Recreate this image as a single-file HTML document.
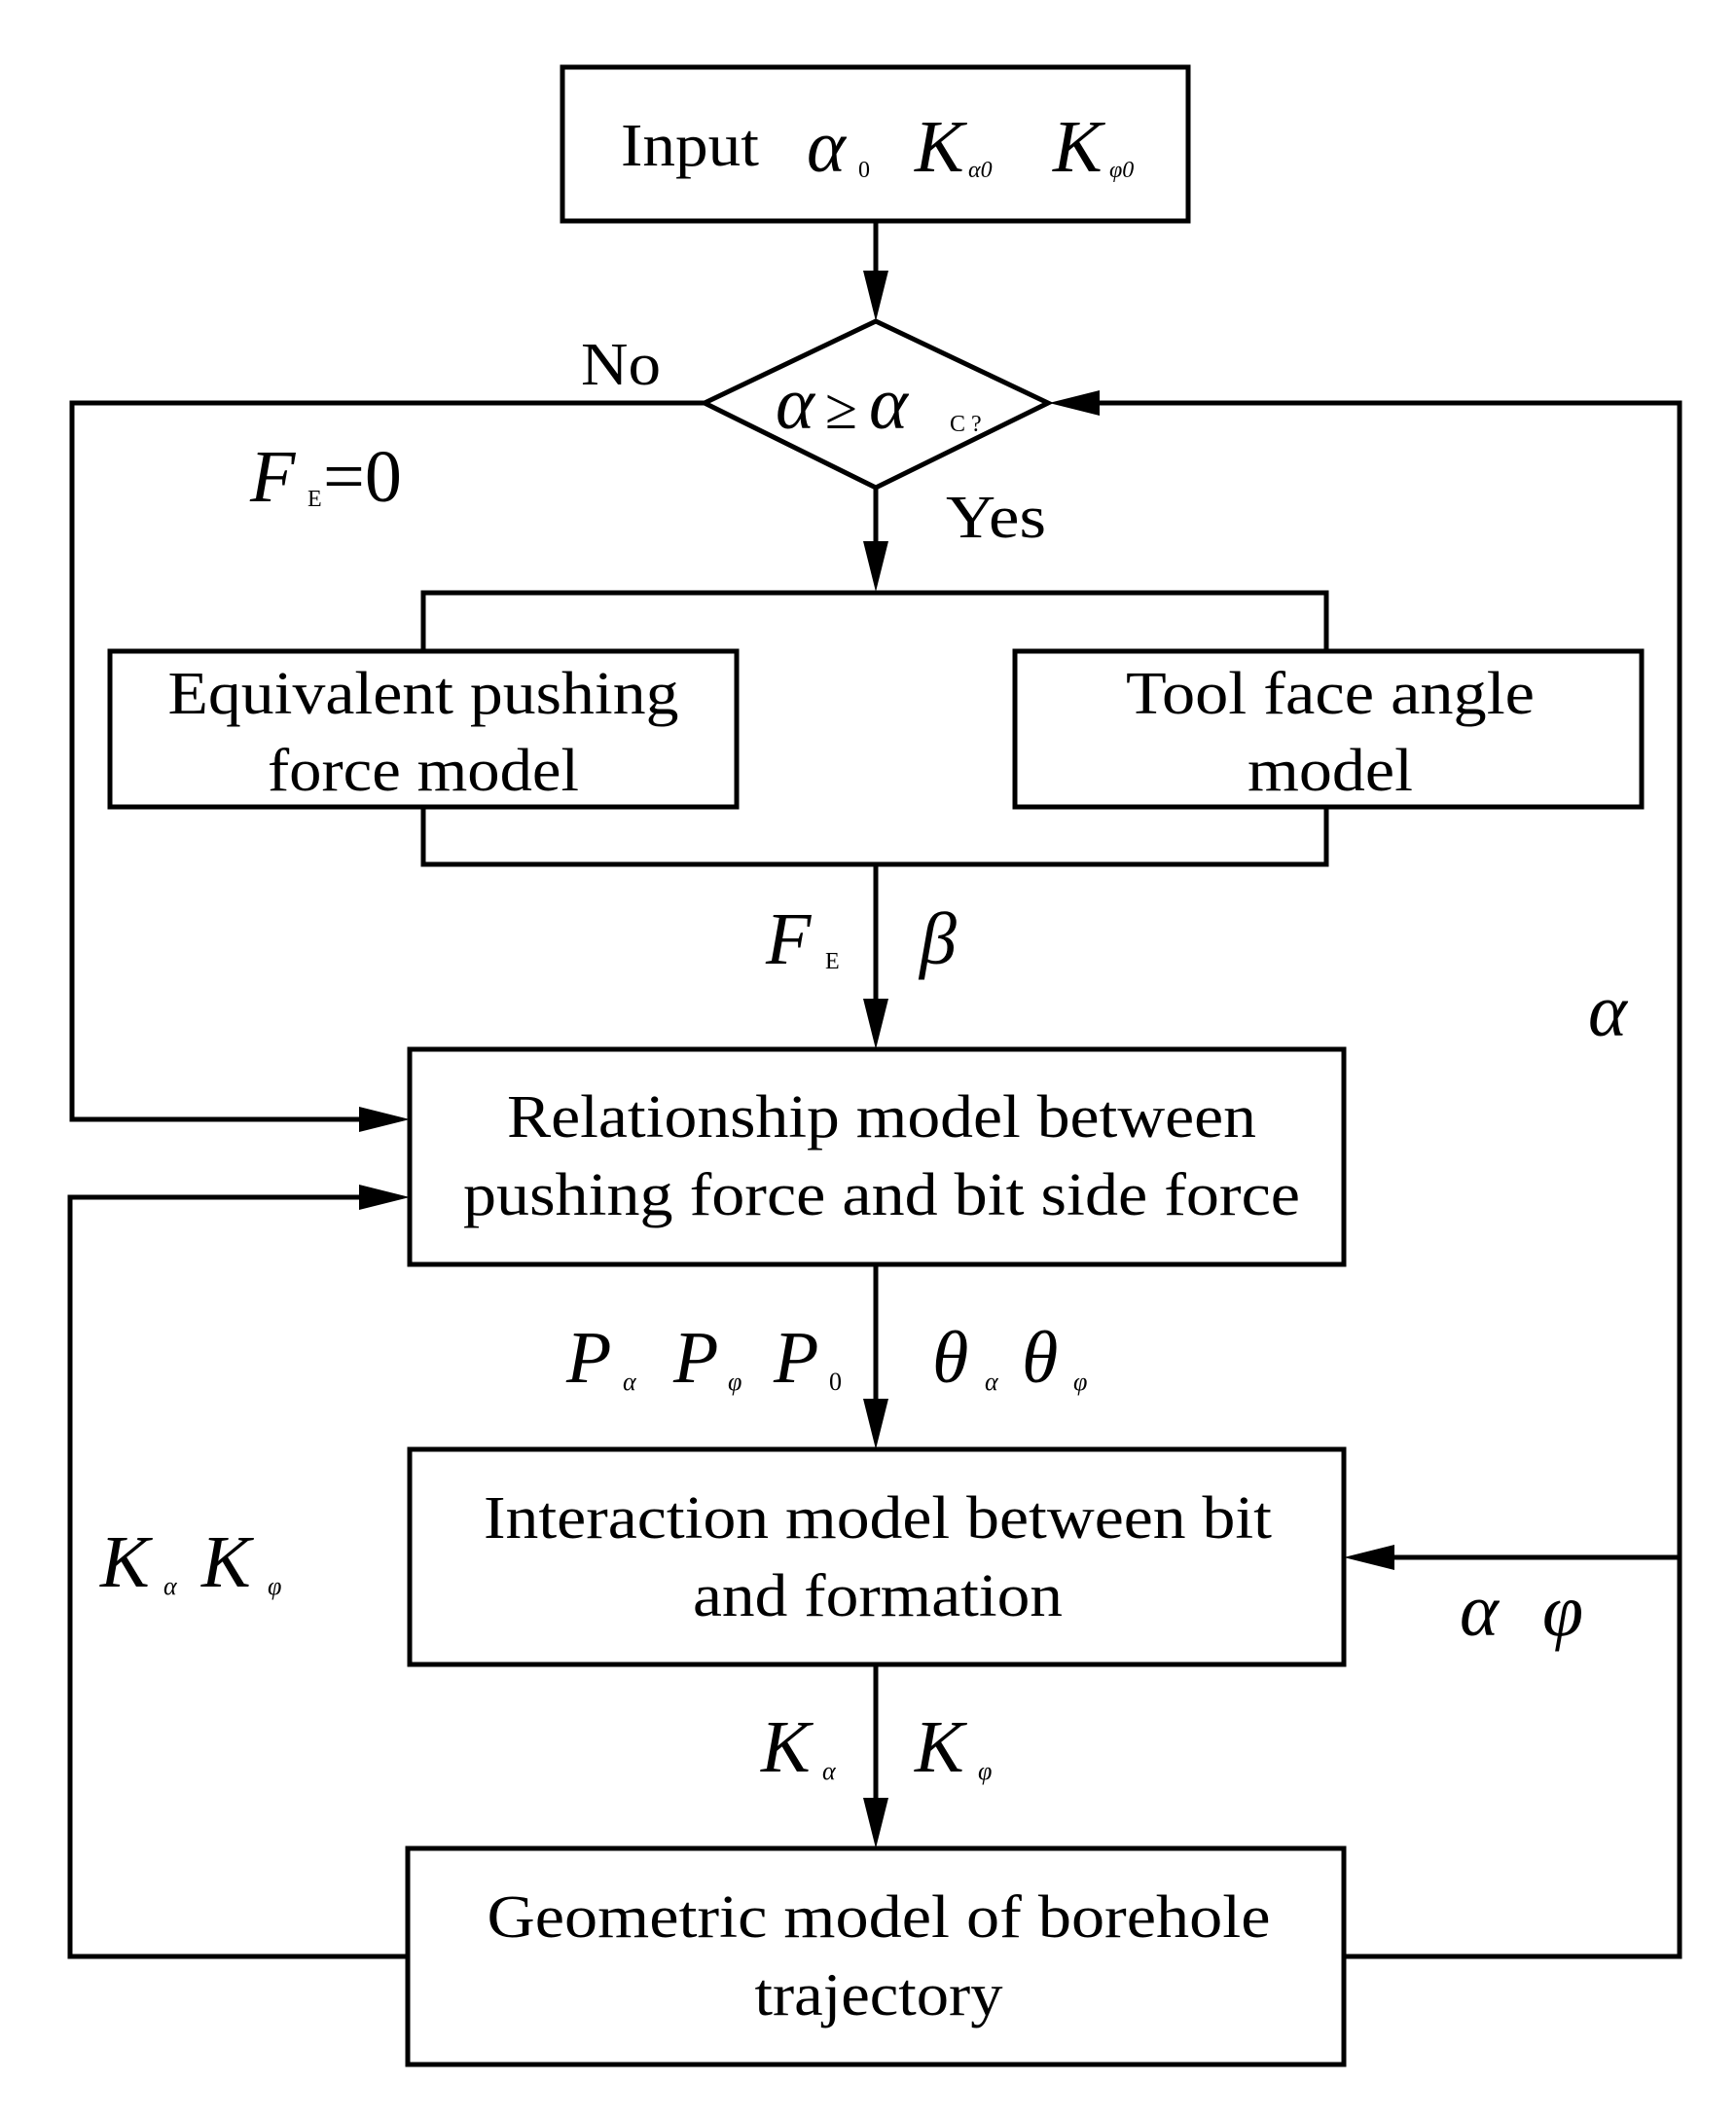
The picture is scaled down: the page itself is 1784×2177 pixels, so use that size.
<!DOCTYPE html>
<html><head><style>html,body{margin:0;padding:0;background:#fff}svg{display:block}</style></head>
<body>
<svg width="1784" height="2177" viewBox="0 0 1784 2177" xmlns="http://www.w3.org/2000/svg" font-family="Liberation Serif, serif">
<g fill="none" stroke="#000" stroke-width="5">
<rect x="578" y="69" width="643" height="158"/>
<polygon points="900,330 1077,414 900,501 724,414"/>
<rect x="113" y="669" width="644" height="160"/>
<rect x="1043" y="669" width="644" height="160"/>
<rect x="421" y="1078" width="960" height="221"/>
<rect x="421" y="1489" width="960" height="221"/>
<rect x="419" y="1899" width="962" height="222"/>
<line x1="900" y1="227" x2="900" y2="300"/>
<line x1="900" y1="501" x2="900" y2="580"/>
<polyline points="435,669 435,609 1363,609 1363,669"/>
<polyline points="435,829 435,888 1363,888 1363,829"/>
<line x1="900" y1="888" x2="900" y2="1050"/>
<line x1="900" y1="1299" x2="900" y2="1462"/>
<line x1="900" y1="1710" x2="900" y2="1872"/>
<polyline points="724,414 74,414 74,1150 390,1150"/>
<polyline points="419,2010 72,2010 72,1230 390,1230"/>
<polyline points="1381,2010 1726,2010 1726,414 1108,414"/>
<line x1="1726" y1="1600" x2="1410" y2="1600"/>
</g>
<g fill="#000">
<polygon points="887,278 913,278 900,330"/>
<polygon points="887,556 913,556 900,608"/>
<polygon points="887,1026 913,1026 900,1078"/>
<polygon points="887,1437 913,1437 900,1489"/>
<polygon points="887,1847 913,1847 900,1899"/>
<polygon points="369,1137 369,1163 421,1150"/>
<polygon points="369,1217 369,1243 421,1230"/>
<polygon points="1130,401 1130,427 1078,414"/>
<polygon points="1433,1587 1433,1613 1381,1600"/>
</g>
<g fill="#000" font-size="62">
<text x="638" y="170" textLength="142" lengthAdjust="spacingAndGlyphs">Input</text>
<text x="597" y="395" textLength="82" lengthAdjust="spacingAndGlyphs">No</text>
<text x="972" y="552" textLength="103" lengthAdjust="spacingAndGlyphs">Yes</text>
<g text-anchor="middle">
<text x="435" y="733" textLength="525" lengthAdjust="spacingAndGlyphs">Equivalent pushing</text>
<text x="435" y="812" textLength="320" lengthAdjust="spacingAndGlyphs">force model</text>
<text x="1367" y="733" textLength="420" lengthAdjust="spacingAndGlyphs">Tool face angle</text>
<text x="1367" y="812" textLength="170" lengthAdjust="spacingAndGlyphs">model</text>
<text x="906" y="1168" textLength="770" lengthAdjust="spacingAndGlyphs">Relationship model between</text>
<text x="906" y="1248" textLength="860" lengthAdjust="spacingAndGlyphs">pushing force and bit side force</text>
<text x="902" y="1580" textLength="810" lengthAdjust="spacingAndGlyphs">Interaction model between bit</text>
<text x="902" y="1660" textLength="380" lengthAdjust="spacingAndGlyphs">and formation</text>
<text x="903" y="1990" textLength="805" lengthAdjust="spacingAndGlyphs">Geometric model of borehole</text>
<text x="903" y="2070" textLength="255" lengthAdjust="spacingAndGlyphs">trajectory</text>
</g>
</g>
<g fill="#000" font-style="italic" font-size="76">
<text x="829" y="176">α</text><text x="882" y="182" font-size="24" font-style="normal">0</text>
<text x="940" y="176">K</text><text x="995" y="182" font-size="24">α0</text>
<text x="1082" y="176">K</text><text x="1140" y="182" font-size="24">φ0</text>
<text x="797" y="440">α</text><text x="848" y="440" font-style="normal" font-size="60">≥</text><text x="893" y="440">α</text><text x="976" y="443" font-size="24" font-style="normal">C ?</text>
<text x="257" y="515">F</text><text x="316" y="520" font-size="24" font-style="normal">E</text><text x="332" y="515" font-style="normal">=0</text>
<text x="787" y="990">F</text><text x="848" y="995" font-size="24" font-style="normal">E</text>
<text x="945" y="990">β</text>
<text x="1632" y="1064">α</text>
<text x="582" y="1420">P</text><text x="640" y="1428" font-size="26">α</text>
<text x="692" y="1420">P</text><text x="748" y="1428" font-size="26">φ</text>
<text x="795" y="1420">P</text><text x="852" y="1428" font-size="26" font-style="normal">0</text>
<text x="958" y="1420">θ</text><text x="1012" y="1428" font-size="26">α</text>
<text x="1050" y="1420">θ</text><text x="1103" y="1428" font-size="26">φ</text>
<text x="103" y="1630">K</text><text x="168" y="1638" font-size="26">α</text>
<text x="207" y="1630">K</text><text x="275" y="1638" font-size="26">φ</text>
<text x="1500" y="1680">α</text><text x="1585" y="1680">φ</text>
<text x="782" y="1820">K</text><text x="845" y="1828" font-size="26">α</text>
<text x="940" y="1820">K</text><text x="1005" y="1828" font-size="26">φ</text>
</g>
</svg>
</body></html>
